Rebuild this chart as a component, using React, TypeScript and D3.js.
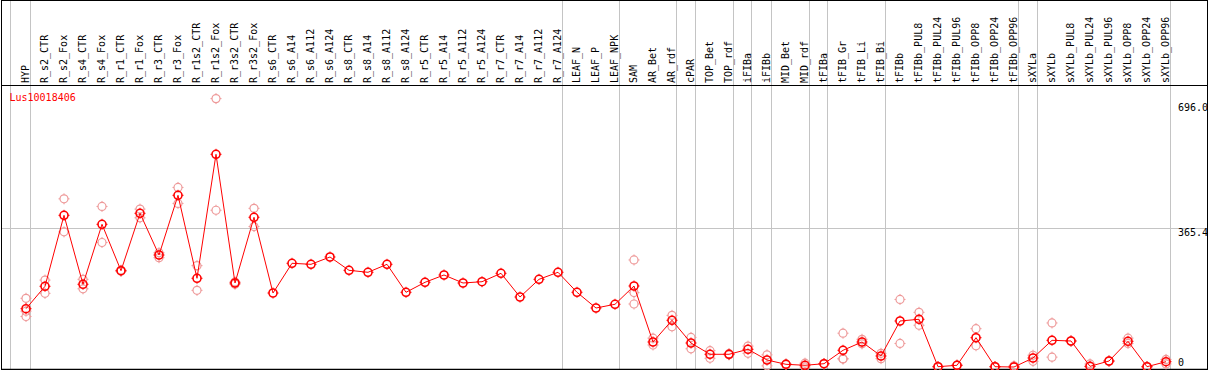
import React from "react";
import * as d3 from "d3";

const categories = [
  "HYP", "R_s2_CTR", "R_s2_Fox", "R_s4_CTR", "R_s4_Fox", "R_r1_CTR", "R_r1_Fox", "R_r3_CTR", "R_r3_Fox",
  "R_r1s2_CTR", "R_r1s2_Fox", "R_r3s2_CTR", "R_r3s2_Fox", "R_s6_CTR", "R_s6_A14", "R_s6_A112", "R_s6_A124",
  "R_s8_CTR", "R_s8_A14", "R_s8_A112", "R_s8_A124", "R_r5_CTR", "R_r5_A14", "R_r5_A112", "R_r5_A124",
  "R_r7_CTR", "R_r7_A14", "R_r7_A112", "R_r7_A124", "LEAF_N", "LEAF_P", "LEAF_NPK", "SAM", "AR_Bet", "AR_rdf",
  "cPAR", "TOP_Bet", "TOP_rdf", "iFIBa", "iFIBb", "MID_Bet", "MID_rdf", "tFIBa", "tFIB_Gr", "tFIB_Li", "tFIB_Bi",
  "tFIBb", "tFIBb_PUL8", "tFIBb_PUL24", "tFIBb_PUL96", "tFIBb_OPP8", "tFIBb_OPP24", "tFIBb_OPP96",
  "sXYLa", "sXYLb", "sXYLb_PUL8", "sXYLb_PUL24", "sXYLb_PUL96", "sXYLb_OPP8", "sXYLb_OPP24", "sXYLb_OPP96",
];

const meanValues = [
  153.6, 212.6, 399.6, 217.9, 375.9, 253.7, 404.9, 295.0, 452.3, 233.7, 560.3, 221.3, 394.4, 194.9, 273.2, 270.5,
  289.8, 254.7, 249.5, 270.5, 196.8, 223.1, 242.4, 221.3, 224.7, 246.8, 184.4, 231.0, 249.5, 196.8, 155.4, 165.2,
  213.4, 65.9, 123.0, 63.2, 33.5, 33.5, 46.6, 18.4, 7.1, 4.5, 8.7, 44.0, 65.9, 29.0, 121.2, 125.7, 0.8, 4.5, 77.2,
  0.8, 0.0, 23.7, 70.3, 68.5, 1.8, 15.8, 67.7, 0.8, 14.0,
];

const replicateValues: number[][] = [
  [181, 147, 133], [229, 194], [443, 356], [231, 206], [423, 328], [255, 252], [416, 393], [301, 288], [473, 431],
  [267, 202], [707, 413], [224, 218], [418, 370], [], [], [],
  [], [], [], [], [], [], [], [], [],
  [], [], [], [], [], [], [],
  [282, 196, 166], [76, 58], [136, 106], [78, 48], [43, 23], [35, 32], [55, 36], [32, 3], [8, 6], [10, 0], [9, 8],
  [89, 22, 21], [73, 61], [36, 22], [178, 62], [144, 110], [1, 0.5], [5, 4], [101, 56],
  [1, 0.5], [3, 0], [31, 15], [116, 26], [69, 68], [8, 1], [16, 15], [76, 62], [1, 0.5], [20, 8],
];

const groupBoundaries = [-1, 0, 28, 31, 34, 35, 37, 38, 39, 41, 42, 45, 52, 53, 60];

const yTicks = [0, 365.4, 696.0];
const yTickLabels = ["0", "365.4", "696.0"];
const geneName = "Lus10018406";

const W = 1209;
const H = 370;
const FONT = "'DejaVu Sans Mono', monospace";
const GRID = "#c4c4c4";
const RED = "#ff0000";
const PINK = "#ee9a9a";

function Marker({ cx, cy, color, sw }: { cx: number; cy: number; color: string; sw: number }) {
  const r = 4;
  return (
    <g stroke={color} strokeWidth={sw} fill="none">
      <circle cx={cx} cy={cy} r={r} />
      <line x1={cx} x2={cx} y1={cy - r - 1.5} y2={cy - r} strokeWidth={1} />
      <line x1={cx} x2={cx} y1={cy + r} y2={cy + r + 1.5} strokeWidth={1} />
      <line x1={cx - r - 1.5} x2={cx - r} y1={cy} y2={cy} strokeWidth={1} />
      <line x1={cx + r} x2={cx + r + 1.5} y1={cy} y2={cy} strokeWidth={1} />
    </g>
  );
}

export default function App() {
  const x = d3.scaleLinear().domain([0, categories.length - 1]).range([26, 1166]);
  const y = d3.scaleLinear().domain([0, 696]).range([367, 102.8]);
  const line = d3
    .line<number>()
    .x((_, i) => x(i))
    .y((d) => y(d));

  return (
    <svg
      width={W}
      height={H}
      style={{ position: "absolute", left: 0, top: 0, background: "#fff" }}
      fontFamily={FONT}
      fontSize={10}
    >
      <rect x={0} y={0} width={W} height={H} fill="#fff" />
      {/* group separators */}
      {groupBoundaries.map((b) => {
        const gx = Math.floor(x(b) + 4) + 0.5;
        return <line key={b} x1={gx} x2={gx} y1={0} y2={369} stroke={GRID} strokeWidth={1} />;
      })}
      {/* mid gridline */}
      <line x1={1} x2={1207} y1={Math.round(y(365.4)) + 0.5} y2={Math.round(y(365.4)) + 0.5} stroke={GRID} />
      {/* header labels */}
      {categories.map((c, i) => (
        <text key={c} transform={`translate(${x(i) + 3},83) rotate(-90)`} fill="#000">
          {c}
        </text>
      ))}
      {/* frame */}
      <line x1={1} x2={1208} y1={0.5} y2={0.5} stroke="#000" />
      <line x1={1} x2={1208} y1={85.5} y2={85.5} stroke="#000" />
      <line x1={1} x2={1208} y1={369.5} y2={369.5} stroke="#000" strokeWidth={1.5} />
      <line x1={1.5} x2={1.5} y1={0} y2={370} stroke="#000" />
      <line x1={1207.5} x2={1207.5} y1={0} y2={370} stroke="#000" />
      {/* gene name */}
      <text x={9.5} y={101} fill={RED}>
        {geneName}
      </text>
      {/* y tick labels */}
      {yTicks.map((t, i) => {
        const ty = i === 0 ? y(t) - 1 : y(t) + 8.2;
        return (
          <text key={t} x={1178} y={ty} fill="#000">
            {yTickLabels[i]}
          </text>
        );
      })}
      {/* replicates */}
      {replicateValues.map((reps, i) =>
        reps.map((v, j) => <Marker key={`${i}-${j}`} cx={x(i)} cy={y(v)} color={PINK} sw={1.2} />)
      )}
      {/* mean line */}
      <path d={line(meanValues) || ""} fill="none" stroke={RED} strokeWidth={1} />
      {meanValues.map((v, i) => (
        <Marker key={i} cx={x(i)} cy={y(v)} color={RED} sw={1.6} />
      ))}
    </svg>
  );
}
